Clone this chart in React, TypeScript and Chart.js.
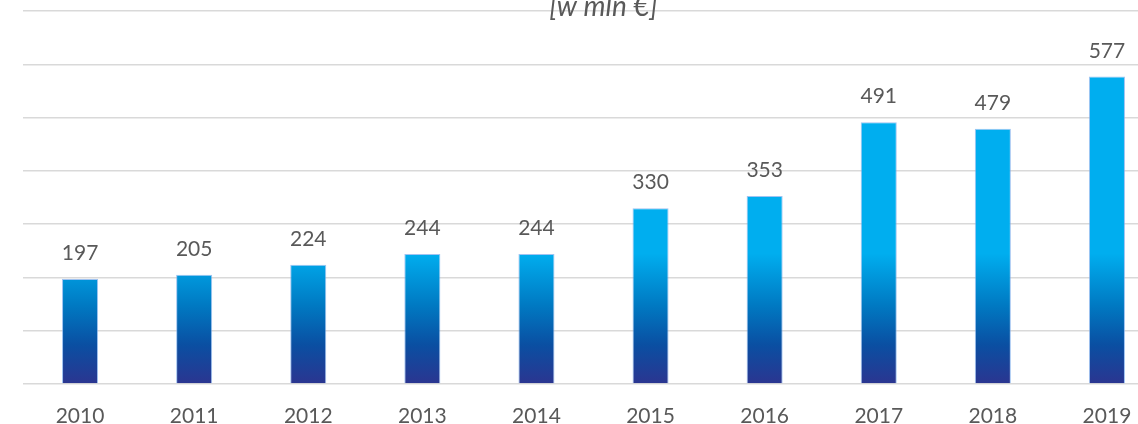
import React, { useEffect, useRef } from "react";
import { Chart, registerables } from "chart.js";

Chart.register(...registerables);

const years = ["2010", "2011", "2012", "2013", "2014", "2015", "2016", "2017", "2018", "2019"];
const values = [197, 205, 224, 244, 244, 330, 353, 491, 479, 577];
const unitTitle = "[w mln €]";
const yMax = 700;
const yStep = 100;

const FONT = "Lato, 'Open Sans', sans-serif";
const TEXT = "#595959";

export default function App() {
  const ref = useRef<HTMLCanvasElement | null>(null);

  useEffect(() => {
    if (!ref.current) return;
    const labelsPlugin = {
      id: "valueLabels",
      afterDatasetsDraw(chart: any) {
        const c = chart.ctx;
        const meta = chart.getDatasetMeta(0);
        c.save();
        c.font = `21px ${FONT}`;
        c.fillStyle = TEXT;
        c.textAlign = "center";
        c.textBaseline = "alphabetic";
        meta.data.forEach((bar: any, i: number) => {
          c.fillText(String(values[i]), bar.x, bar.y - 19);
        });
        c.restore();
      },
    };
    const titlePlugin = {
      id: "unitTitle",
      afterDraw(chart: any) {
        const c = chart.ctx;
        const a = chart.chartArea;
        c.save();
        c.font = `italic 28px ${FONT}`;
        c.fillStyle = TEXT;
        c.textAlign = "center";
        c.textBaseline = "alphabetic";
        c.fillText(unitTitle, (a.left + a.right) / 2 + 10, 16);
        c.restore();
      },
    };
    const chart = new Chart(ref.current, {
      type: "bar",
      data: {
        labels: years,
        datasets: [
          {
            data: values,
            backgroundColor: (ctx: any) => {
              const ch = ctx.chart;
              if (!ch.chartArea || !ch.scales.y) return "#00aeef";
              const y0 = ch.scales.y.getPixelForValue(0);
              const y1 = ch.scales.y.getPixelForValue(245);
              const g = ch.ctx.createLinearGradient(0, y0, 0, y1);
              g.addColorStop(0, "#2b3590");
              g.addColorStop(0.3, "#0a4fa2");
              g.addColorStop(0.6, "#0079c2");
              g.addColorStop(1, "#00aeef");
              return g;
            },
            borderColor: "rgba(120,170,235,0.7)",
            borderWidth: 1,
            categoryPercentage: 1,
            barPercentage: 0.316,
          },
        ],
      },
      options: {
        animation: false,
        responsive: true,
        maintainAspectRatio: false,
        layout: { padding: { left: 23, right: 6, top: 11, bottom: 0 } },
        plugins: { legend: { display: false }, tooltip: { enabled: false }, title: { display: false } },
        scales: {
          x: {
            grid: { display: false },
            border: { display: false },
            ticks: { color: TEXT, font: { family: FONT, size: 21 }, padding: 12 },
            afterFit: (s: any) => {
              s.height = 40;
            },
          },
          y: {
            min: 0,
            max: yMax,
            ticks: { display: false, stepSize: yStep },
            grid: { color: "#d9d9d9", lineWidth: 1.5, drawTicks: false },
            border: { display: false },
            afterFit: (s: any) => {
              s.width = 0;
            },
          },
        },
      },
      plugins: [labelsPlugin, titlePlugin],
    });
    return () => chart.destroy();
  }, []);

  return (
    <div style={{ position: "fixed", left: 0, top: 0, width: 1138, height: 424, overflow: "hidden", background: "#fff" }}>
      <div style={{ position: "relative", width: 1170, height: 424 }}>
        <canvas ref={ref} />
      </div>
    </div>
  );
}
